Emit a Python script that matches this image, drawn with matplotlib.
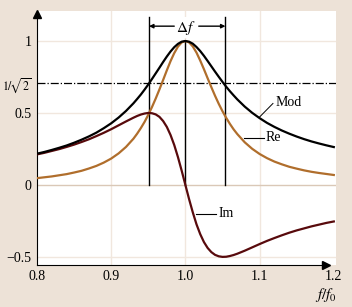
import matplotlib.pyplot as plt

# valores (f/f0 de 0.80 a 1.20; mas puntos cerca de la resonancia)
freq = [0.80, 0.81, 0.82, 0.83, 0.84, 0.85, 0.86, 0.87, 0.88, 0.89,
        0.90, 0.91, 0.92, 0.93, 0.935, 0.94, 0.945, 0.95, 0.955, 0.96,
        0.965, 0.97, 0.975, 0.98, 0.985, 0.99, 0.995, 1.00, 1.005, 1.01,
        1.015, 1.02, 1.025, 1.03, 1.035, 1.04, 1.045, 1.05, 1.055, 1.06,
        1.065, 1.07, 1.08, 1.09, 1.10, 1.11, 1.12, 1.13, 1.14, 1.15,
        1.16, 1.17, 1.18, 1.19, 1.20]
mod = [0.217, 0.229, 0.243, 0.258, 0.274, 0.293, 0.314, 0.337, 0.363, 0.394,
       0.428, 0.468, 0.514, 0.567, 0.597, 0.628, 0.662, 0.698, 0.736, 0.775,
       0.814, 0.854, 0.892, 0.927, 0.957, 0.980, 0.995, 1.000, 0.995, 0.981,
       0.958, 0.930, 0.897, 0.861, 0.824, 0.787, 0.751, 0.716, 0.682, 0.651,
       0.622, 0.594, 0.544, 0.501, 0.464, 0.431, 0.403, 0.378, 0.356, 0.336,
       0.318, 0.302, 0.288, 0.275, 0.263]
re = [0.047, 0.053, 0.059, 0.067, 0.075, 0.086, 0.098, 0.114, 0.132, 0.155,
      0.183, 0.219, 0.264, 0.321, 0.356, 0.395, 0.438, 0.487, 0.541, 0.600,
      0.663, 0.729, 0.796, 0.860, 0.916, 0.961, 0.990, 1.000, 0.990, 0.962,
      0.919, 0.864, 0.804, 0.741, 0.679, 0.619, 0.563, 0.512, 0.466, 0.424,
      0.386, 0.353, 0.296, 0.251, 0.215, 0.186, 0.162, 0.143, 0.126, 0.113,
      0.101, 0.091, 0.083, 0.076, 0.069]
im = [0.212, 0.223, 0.236, 0.249, 0.264, 0.280, 0.298, 0.317, 0.339, 0.362,
      0.387, 0.414, 0.441, 0.467, 0.479, 0.489, 0.496, 0.500, 0.498, 0.490,
      0.473, 0.444, 0.403, 0.347, 0.277, 0.193, 0.099, 0.000, -0.099, -0.191,
      -0.274, -0.342, -0.397, -0.438, -0.467, -0.486, -0.496, -0.500, -0.499, -0.494,
      -0.487, -0.478, -0.457, -0.434, -0.411, -0.389, -0.369, -0.350, -0.332, -0.316,
      -0.302, -0.288, -0.276, -0.264, -0.254]

xticks = [0.8, 0.9, 1.0, 1.1, 1.2]
xlabels = ['0.8', '0.9', '1.0', '1.1', '1.2']
yticks = [-0.5, 0, 0.5, 2 ** -0.5, 1]
ylabels = ['\u22120.5', '0', '0.5', r'$1/\!\sqrt{2}$', '1']
f_lo, f_hi = 0.951, 1.054  # limites de la banda

fondo = '#ede2d7'
rejilla = '#f1e7de'
c_re = '#b06e2c'
c_im = '#580a0c'

plt.rcParams['font.family'] = ['Liberation Serif', 'DejaVu Serif']
plt.rcParams['mathtext.fontset'] = 'stix'

fig = plt.figure(figsize=(3.52, 3.07), dpi=100, facecolor=fondo)
ax = fig.add_axes([0.105, 0.137, 0.849, 0.827])
ax.set_facecolor('white')
ax.set_xlim(0.8, 1.2027)
ax.set_ylim(-0.556, 1.208)

#---rejilla---#
for x in [0.9, 1.0, 1.1]:
    ax.axvline(x, color=rejilla, lw=1, zorder=0)
for y in [-0.5, 0.5, 1]:
    ax.axhline(y, color=rejilla, lw=1, zorder=0)
ax.axhline(0, color='#dac8b7', lw=1, zorder=0)
ax.axhline(2 ** -0.5, color='black', lw=0.9, ls='-.', zorder=1)

#---curvas---#
ax.plot(freq, re, color=c_re, lw=1.6, zorder=3)
ax.plot(freq, im, color=c_im, lw=1.6, zorder=3)
ax.plot(freq, mod, color='black', lw=1.6, zorder=4)

#---lineas verticales y delta f---#
for x in [f_lo, f_hi]:
    ax.plot([x, x], [0, 1.17], color='black', lw=1, zorder=2)
ax.plot([1.0, 1.0], [0, 1.0], color='black', lw=1, zorder=2)
ya = 1.103
ax.annotate('', xy=(f_lo, ya), xytext=(0.985, ya),
            arrowprops=dict(arrowstyle='-|>', color='black', lw=1,
                            mutation_scale=6, shrinkA=0, shrinkB=0), zorder=3)
ax.annotate('', xy=(f_hi, ya), xytext=(1.018, ya),
            arrowprops=dict(arrowstyle='-|>', color='black', lw=1,
                            mutation_scale=6, shrinkA=0, shrinkB=0), zorder=3)
ax.text(1.001, ya - 0.01, r'$\Delta f$', ha='center', va='center', fontsize=11,
        zorder=5, bbox=dict(facecolor='white', edgecolor='none', pad=1))

#---etiquetas de curvas---#
ax.plot([1.100, 1.118], [0.472, 0.566], color='black', lw=0.7)
ax.text(1.121, 0.572, 'Mod', ha='left', va='center', fontsize=10)
ax.plot([1.079, 1.106], [0.326, 0.326], color='black', lw=0.8)
ax.text(1.108, 0.326, 'Re', ha='left', va='center', fontsize=10)
ax.plot([1.014, 1.041], [-0.201, -0.201], color='black', lw=0.8)
ax.text(1.044, -0.201, 'Im', ha='left', va='center', fontsize=10)

#---ejes---#
for s in ['top', 'right']:
    ax.spines[s].set_visible(False)
ax.spines['left'].set_bounds(-0.556, 1.19)
ax.spines['bottom'].set_bounds(0.8, 1.19)
ax.plot(0.8, 1.19, marker='^', color='black', ms=6, clip_on=False, zorder=5)
ax.plot(1.19, -0.556, marker='>', color='black', ms=6, clip_on=False, zorder=5)

ax.set_xticks(xticks)
ax.set_xticklabels(xlabels)
ax.set_yticks(yticks)
ax.set_yticklabels(ylabels)
ax.tick_params(length=0, labelsize=10, pad=4)
ax.get_yticklabels()[3].set_fontsize(8.5)
ax.text(1.19, -0.7, r'$f/f_0$', ha='center', va='top', fontsize=11)

plt.savefig('out.png', dpi=100, facecolor=fondo)
